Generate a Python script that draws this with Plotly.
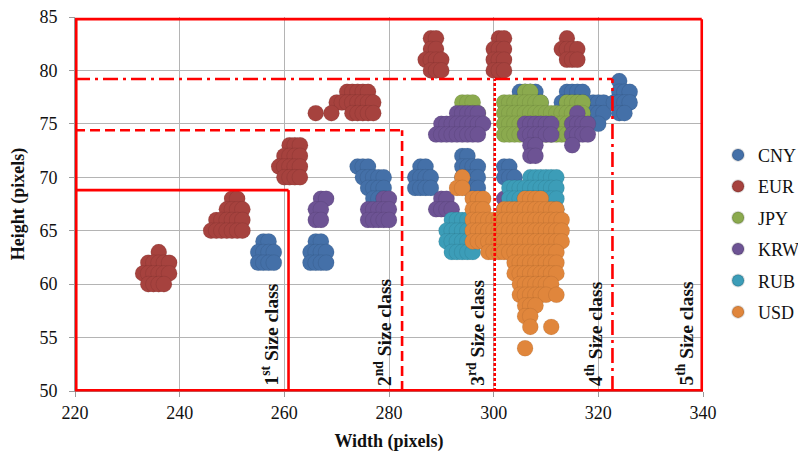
import plotly.graph_objects as go

# ---------------- data: (height, [widths]) ----------------
CNY_ROWS = [
    (64, [256, 257]), (63, [255, 256, 257, 258]), (62, [255, 256, 257, 258]),
    (64, [266, 267]), (63, [265, 266, 267, 268]), (62, [265, 266, 267, 268]),
    (71, [274, 275, 276]), (70, [275, 276, 277, 278, 279]), (69, [276, 277, 278, 279]), (68, [277, 278, 279]),
    (71, [286, 287]), (70, [285, 286, 287, 288]), (69, [285, 286, 287, 288]),
    (72, [294, 295]), (71, [294, 295, 296, 297]), (70, [294, 295, 296, 297]), (69, [295, 296, 297]),
    (71, [302, 303]), (70, [302, 303, 304]),
    (78, [305, 306, 307, 308]), (77, [304, 305, 306, 307, 308, 309]),
    (78, [314, 315, 316, 317]), (77, [313, 314, 315, 316, 317]),
    (77, [319, 320, 321]), (76, [318, 319, 320, 321]), (75, [320]),
    (79, [324]), (78, [324, 325, 326]), (77, [323, 324, 325, 326]), (76, [324, 325]),
]
EUR_ROWS = [
    (63, [236]), (62, [234, 235, 236, 237, 238]), (61, [233, 234, 235, 236, 237, 238]), (60, [234, 235, 236, 237]),
    (68, [250, 251]), (67, [249, 250, 251, 252]), (66, [247, 248, 249, 250, 251, 252]),
    (65, [246, 247, 248, 249, 250, 251, 252]),
    (73, [261, 262, 263]), (72, [260, 261, 262, 263]), (71, [259, 260, 261, 262, 263]), (70, [260, 261, 262, 263]),
    (78, [272, 273, 274, 275, 276]), (77, [270, 271, 272, 273, 274, 275, 276, 277]),
    (76, [266, 269, 273, 274, 275, 276, 277]),
    (83, [288, 289]), (82, [288, 289]), (81, [287, 288, 289, 290]), (80, [288, 289, 290]),
    (83, [301, 302]), (82, [300, 301, 302]), (81, [300, 301, 302]), (80, [300, 301, 302]),
    (83, [314]), (82, [313, 314, 315, 316]), (81, [314, 315, 316]),
]
JPY_ROWS = [
    (77, [294, 295, 296]), (76, [294, 295, 296, 297]),
    (78, [306, 307]),
    (77, [302, 303, 304, 305, 306, 307, 308, 309, 314, 315, 316, 317]),
    (76, [302, 303, 304, 305, 306, 307, 308, 309, 310, 311, 312, 313, 314, 315, 316, 317]),
    (75, [302, 303, 304, 305, 306, 307, 308, 309, 310, 311, 312, 313, 314, 315, 316, 317]),
    (74, [302, 303, 304, 305, 306, 307, 308, 309, 310, 311, 312, 313, 314, 315, 316]),
]
KRW_ROWS = [
    (68, [267, 268]), (67, [266, 267]), (66, [266, 267]),
    (68, [279, 280]), (67, [276, 277, 278, 279, 280]), (66, [276, 277, 278, 279, 280]),
    (76, [293, 294, 295, 296, 297]), (75, [290, 291, 292, 293, 294, 295, 296, 297, 298]),
    (74, [289, 290, 291, 292, 293, 294, 295, 296, 297]),
    (68, [290, 291]), (67, [289, 290, 291, 292]),
    (68, [302]), (67, [302]),
    (75, [306, 307, 308, 309, 310, 311]), (74, [306, 307, 308, 309, 310, 311]), (73, [307, 308]), (72, [307, 308]),
    (76, [316]), (75, [315, 316, 317, 318]), (74, [315, 316, 317, 318]), (73, [315]),
]
RUB_ROWS = [
    (70, [307, 308, 309, 310, 311, 312]), (69, [303, 304, 305, 306, 307, 308, 309, 310, 311, 312]),
    (68, [303, 304, 305, 306, 307, 308, 309, 310, 311, 312]), (67, [303, 304, 305, 306, 307, 308, 309, 310, 311, 312]),
    (66, [292, 293, 294, 295]), (65, [291, 292, 293, 294, 295]), (64, [291, 292, 293, 294, 295]),
    (63, [292, 293, 294, 295, 296]),
]
USD_ROWS = [
    (70, [294]), (69, [293, 294]),
    (68, [296, 297, 298, 306, 307, 308, 309]),
    (67, [296, 297, 298, 302, 303, 304, 305, 306, 307, 308, 309, 310, 311, 312]),
    (66, [296, 297, 298, 299, 300, 301, 302, 303, 304, 305, 306, 307, 308, 309, 310, 311, 312, 313]),
    (65, [296, 297, 298, 299, 300, 301, 302, 303, 304, 305, 306, 307, 308, 309, 310, 311, 312, 313]),
    (64, [296, 297, 298, 299, 300, 301, 302, 303, 304, 305, 306, 307, 308, 309, 310, 311, 312, 313]),
    (63, [299, 300, 301, 302, 303, 304, 305, 306, 307, 308, 309, 310, 311, 312]),
    (62, [304, 305, 306, 307, 308, 309, 310, 311, 312]),
    (61, [304, 305, 306, 307, 308, 309, 310, 311, 312]),
    (60, [305, 306, 307, 308, 309, 310, 311]),
    (59, [305, 306, 307, 308, 309, 310, 312]),
    (58, [306, 307, 308]), (57, [306, 307]), (56, [307, 311]), (54, [306]),
]

CURRENCIES = ["CNY", "EUR", "JPY", "KRW", "RUB", "USD"]
COLORS = ["#4470A8", "#A6423E", "#8BAA4E", "#6D5394", "#3C9DB8", "#E0863C"]
ALL_ROWS = [CNY_ROWS, EUR_ROWS, JPY_ROWS, KRW_ROWS, RUB_ROWS, USD_ROWS]

# size class boundaries (width, height) and their line styles
CLASS_WIDTHS = [260.8, 282.5, 300.2, 322.7, 340.0]
CLASS_HEIGHTS = [68.8, 74.4, 79.2, 79.2, 84.8]
CLASS_LABELS = ["1<sup>st</sup> Size class", "2<sup>nd</sup> Size class", "3<sup>rd</sup> Size class",
                "4<sup>th</sup> Size class", "5<sup>th</sup> Size class"]
CLASS_DASH = ["solid", "10px,5px", "3px,2px", "15px,5px,3px,5px", "solid"]

X_RANGE = [220, 340]
Y_RANGE = [50, 85]
X_TICKS = [220, 240, 260, 280, 300, 320, 340]
Y_TICKS = [50, 55, 60, 65, 70, 75, 80, 85]

FONT = "'Liberation Serif', 'Times New Roman', Times, serif"

fig = go.Figure()
for name, color, rows in zip(CURRENCIES, COLORS, ALL_ROWS):
    xs, ys = [], []
    for h, ws in rows:
        for w in ws:
            xs.append(w)
            ys.append(h)
    fig.add_trace(go.Scatter(
        x=xs, y=ys, mode="markers", name=name, legendgroup=name,
        marker=dict(size=16, color=color, line=dict(width=0.6, color="rgba(0,0,0,0.12)")),
        cliponaxis=False,
    ))


def yfrac(v):
    return (v - Y_RANGE[0]) / (Y_RANGE[1] - Y_RANGE[0])


def xfrac(v):
    return (v - X_RANGE[0]) / (X_RANGE[1] - X_RANGE[0])


RED = "#FF0000"
LW = 2.6
# common left and bottom edges of all size classes
fig.add_shape(type="line", xref="x domain", yref="y domain", x0=0.002, x1=0.002, y0=0, y1=yfrac(CLASS_HEIGHTS[-1]),
              line=dict(color=RED, width=LW), layer="above")
fig.add_shape(type="line", xref="x domain", yref="y domain", x0=0, x1=1, y0=0.002, y1=0.002,
              line=dict(color=RED, width=LW), layer="above")

for i, (w, h, dash) in enumerate(zip(CLASS_WIDTHS, CLASS_HEIGHTS, CLASS_DASH)):
    # vertical side
    fig.add_shape(type="line", xref="x domain", yref="y domain",
                  x0=min(xfrac(w), 0.998), x1=min(xfrac(w), 0.998), y0=0, y1=yfrac(h),
                  line=dict(color=RED, width=LW, dash=dash), layer="above")
    # horizontal side (3rd class shares the 4th class top)
    if i != 2:
        fig.add_shape(type="line", xref="x domain", yref="y domain",
                      x0=0, x1=min(xfrac(w), 0.998), y0=yfrac(h), y1=yfrac(h),
                      line=dict(color=RED, width=LW, dash=dash), layer="above")
    fig.add_annotation(x=w, y=Y_RANGE[0], xref="x", yref="y", text="<b>" + CLASS_LABELS[i] + "</b>",
                       textangle=-90, showarrow=False, xanchor="right", yanchor="bottom",
                       xshift=-5, yshift=3, font=dict(family=FONT, size=19.5, color="#111"))

# the page adds an 8px body margin, so the figure is 8px smaller on each axis
fig.update_layout(
    width=798, height=445,
    margin=dict(l=66.5, r=103, t=9, b=62, autoexpand=False),
    paper_bgcolor="white", plot_bgcolor="white",
    font=dict(family=FONT, color="#111"),
    showlegend=True,
    legend=dict(x=1.024, y=0.68, xanchor="left", yanchor="top", font=dict(family=FONT, size=18, color="#111"),
                tracegroupgap=5, itemsizing="constant", bgcolor="rgba(0,0,0,0)"),
    xaxis=dict(range=X_RANGE, tickvals=X_TICKS, showgrid=True, gridcolor="#B4B4B4", gridwidth=1,
               showline=True, linecolor="#9A9A9A", linewidth=1, mirror=False, automargin=False,
               ticks="outside", ticklen=5, tickcolor="#9A9A9A", zeroline=False, ticklabeloverflow="allow",
               tickfont=dict(family=FONT, size=18, color="#111"),
               title=dict(text="<b>Width (pixels)</b>", font=dict(family=FONT, size=18, color="#111"), standoff=12)),
    yaxis=dict(range=Y_RANGE, tickvals=Y_TICKS, showgrid=True, gridcolor="#B4B4B4", gridwidth=1,
               showline=True, linecolor="#9A9A9A", linewidth=1, mirror=False, automargin=False,
               ticks="outside", ticklen=5, tickcolor="#9A9A9A", zeroline=False, ticklabelstandoff=8,
               ticklabeloverflow="allow",
               tickfont=dict(family=FONT, size=18, color="#111"),
               title=dict(text="<b>Height (pixels)</b>", font=dict(family=FONT, size=18, color="#111"), standoff=16)),
)

fig.write_html("out.html")
